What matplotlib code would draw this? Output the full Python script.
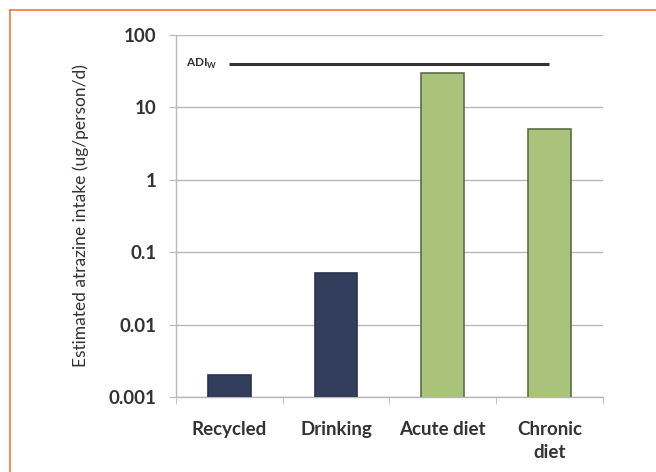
import matplotlib
matplotlib.use("Agg")
import matplotlib.pyplot as plt
from matplotlib.lines import Line2D

# Estimated atrazine intake by exposure route
categories = ["Recycled", "Drinking", "Acute diet", "Chronic\ndiet"]
intake = [0.002, 0.052, 30, 5]
bar_colors = ["#333E5C", "#333E5C", "#A9C47A", "#A9C47A"]
edge_colors = ["#2A3450", "#2A3450", "#5E6E47", "#5E6E47"]
adi_value = 40
y_ticks = [0.001, 0.01, 0.1, 1, 10, 100]
y_tick_labels = ["0.001", "0.01", "0.1", "1", "10", "100"]

plt.rcParams["font.family"] = ["Lato", "DejaVu Sans"]
text_color = "#333333"
grid_color = "#B8B8B8"

fig = plt.figure(figsize=(6.56, 4.72), dpi=100)
ax = fig.add_axes([0.268, 0.159, 0.651, 0.767])

x = list(range(len(categories)))
ax.bar(x, intake, width=0.4, color=bar_colors, edgecolor=edge_colors,
       linewidth=1.2, zorder=3)

ax.set_yscale("log")
ax.set_ylim(0.001, 100)
ax.set_xlim(-0.5, len(categories) - 0.5)

ax.set_yticks(y_ticks)
ax.set_yticklabels(y_tick_labels, fontsize=13.5, fontweight="bold", color=text_color)
ax.yaxis.set_minor_locator(matplotlib.ticker.NullLocator())
ax.tick_params(axis="y", length=5, color=grid_color, pad=9)

# category labels centred under bars, ticks on category boundaries
ax.set_xticks(x)
ax.set_xticklabels(categories, fontsize=13.5, fontweight="bold", color=text_color,
                   linespacing=1.45)
ax.tick_params(axis="x", length=0, pad=17)
ax.set_xticks([i - 0.5 for i in range(len(categories) + 1)], minor=True)
ax.tick_params(axis="x", which="minor", length=5, color=grid_color, direction="out")

ax.grid(axis="y", color=grid_color, linewidth=1, zorder=0)
for side in ["top", "right"]:
    ax.spines[side].set_visible(False)
for side in ["left", "bottom"]:
    ax.spines[side].set_color(grid_color)
    ax.spines[side].set_linewidth(1)

# acceptable daily intake line
ax.plot([0, 3], [adi_value, adi_value], color="#333333", linewidth=2.2, zorder=4,
        solid_capstyle="butt")
ax.text(-0.11, adi_value, r"ADI$_\mathregular{W}$", fontsize=8.5, fontweight="bold",
        color=text_color, ha="right", va="center")

ax.set_ylabel("Estimated atrazine intake (ug/person/d)", fontsize=12.5,
              color=text_color, labelpad=14)

# frame along the top and left edges
orange = "#F07A32"
fig.add_artist(Line2D([10 / 656, 1], [1 - 10 / 472, 1 - 10 / 472],
                      transform=fig.transFigure, color=orange, linewidth=1.2))
fig.add_artist(Line2D([10 / 656, 10 / 656], [0, 1 - 10 / 472],
                      transform=fig.transFigure, color=orange, linewidth=1.2))

fig.savefig("out.png", dpi=100)
